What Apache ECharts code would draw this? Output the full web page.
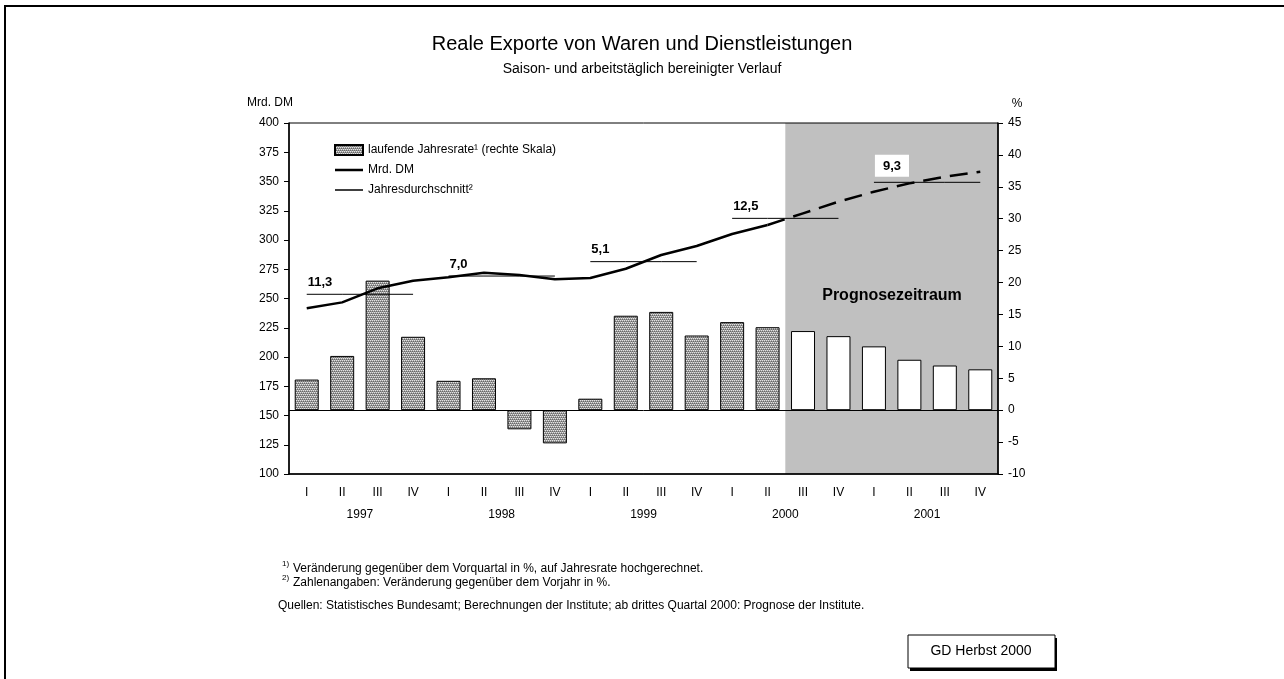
<!DOCTYPE html>
<html>
<head>
<meta charset="utf-8">
<script src="https://cdn.jsdelivr.net/npm/echarts@6/dist/echarts.min.js"></script>
<style>
  html, body { margin: 0; padding: 0; background: #fff; }
  #main { width: 1284px; height: 679px; }
</style>
</head>
<body>
<div id="main"></div>
<script>
// Quartale und Jahre
const quarters = ['I', 'II', 'III', 'IV'];
const years = ['1997', '1998', '1999', '2000', '2001'];
// laufende Jahresrate in % (rechte Skala)
const rateValues = [4.8, 8.5, 20.3, 11.5, 4.6, 5.0, -3.0, -5.2, 1.8, 14.8, 15.4, 11.7, 13.8, 13.0, 12.4, 11.6, 10.0, 7.9, 7.0, 6.4];
// reale Exporte in Mrd. DM (linke Skala)
const exportValues = [241.6, 246.7, 258.7, 265.2, 268.1, 272.1, 270.0, 266.4, 267.5, 275.4, 287.2, 294.9, 305.1, 312.8, 322.8, 332.7, 341.3, 348.4, 354.1, 358.4];
// Jahresdurchschnitt (Niveau in Mrd. DM) und Veränderung gegenüber Vorjahr
const annualLevels = [253.6, 269.2, 281.5, 318.5, 349.3];
const annualLabels = ['11,3', '7,0', '5,1', '12,5', '9,3'];
// ab 2000 III Prognose
const forecastStart = 14;

const FONT = 'Liberation Sans, Arial, sans-serif';
const categories = [];
years.forEach(y => quarters.forEach(q => categories.push(y + ' ' + q)));

// Punktraster fuer die Balken
function makePattern() {
  const c = document.createElement('canvas');
  c.width = 4; c.height = 4;
  const g = c.getContext('2d');
  g.fillStyle = '#9c9c9c';
  g.fillRect(0, 0, 4, 4);
  g.fillStyle = '#e4e4e4';
  [[0, 0], [2, 0], [1, 2], [3, 2]].forEach(p => g.fillRect(p[0], p[1], 1, 1));
  g.fillStyle = '#686868';
  [[1, 1], [3, 1], [0, 3], [2, 3]].forEach(p => g.fillRect(p[0], p[1], 1, 1));
  return c;
}
const pattern = { image: makePattern(), repeat: 'repeat' };

const chart = echarts.init(document.getElementById('main'));

const barData = rateValues.map((v, i) => i >= forecastStart
  ? { value: v, itemStyle: { color: '#fff' } }
  : v);
const solidLine = exportValues.map((v, i) => i <= forecastStart - 1 ? v : null);
const dashedLine = exportValues.map((v, i) => i >= forecastStart - 1 ? v : null);

const annualSeries = annualLevels.map((lvl, k) => {
  const data = categories.map(() => null);
  for (let j = 0; j < 4; j++) data[k * 4 + j] = lvl;
  data[k * 4] = {
    value: lvl,
    label: {
      show: true,
      position: 'top',
      align: 'left',
      distance: 5,
      offset: [1, 0],
      formatter: annualLabels[k],
      fontFamily: FONT,
      fontSize: 13,
      fontWeight: 'bold',
      color: '#000',
      backgroundColor: k === 4 ? '#fff' : 'transparent',
      padding: k === 4 ? [5, 8, 4, 8] : 0
    }
  };
  return {
    name: 'Jahresdurchschnitt²',
    type: 'line',
    xAxisIndex: 0,
    yAxisIndex: 0,
    data: data,
    symbol: 'circle',
    symbolSize: 1,
    showSymbol: true,
    connectNulls: false,
    lineStyle: { color: '#000', width: 1 },
    itemStyle: { color: 'rgba(0,0,0,0)' },
    z: 4,
    silent: true
  };
});

const option = {
  animation: false,
  backgroundColor: '#fff',
  textStyle: { fontFamily: FONT, color: '#000' },
  title: {
    text: 'Reale Exporte von Waren und Dienstleistungen',
    subtext: 'Saison- und arbeitstäglich bereinigter Verlauf',
    left: 'center',
    top: 29,
    itemGap: 8,
    textStyle: { fontFamily: FONT, fontSize: 20, fontWeight: 'normal', color: '#000' },
    subtextStyle: { fontFamily: FONT, fontSize: 14, color: '#000' }
  },
  legend: {
    orient: 'vertical',
    left: 329,
    top: 139,
    itemWidth: 28,
    itemHeight: 10,
    itemGap: 8,
    textStyle: { fontFamily: FONT, fontSize: 12, color: '#000' },
    data: [
      { name: 'laufende Jahresrate¹ (rechte Skala)', icon: 'rect' },
      { name: 'Mrd. DM', icon: 'path://M0,0 L28,0 L28,2.5 L0,2.5 Z', itemStyle: { color: '#000' } },
      { name: 'Jahresdurchschnitt²', icon: 'path://M0,0 L28,0 L28,1.5 L0,1.5 Z', itemStyle: { color: '#000' } }
    ]
  },
  grid: {
    left: 289,
    right: 286,
    top: 123,
    bottom: 205,
    show: true,
    borderColor: '#000',
    borderWidth: 1,
    backgroundColor: 'transparent'
  },
  xAxis: [
    {
      type: 'category',
      data: categories,
      position: 'bottom',
      axisLine: { onZero: false, lineStyle: { color: '#000', width: 1.5 } },
      axisTick: { interval: 3, length: 5, lineStyle: { color: '#000' } },
      axisLabel: {
        interval: 0,
        margin: 13,
        fontFamily: FONT,
        fontSize: 12,
        color: '#000',
        formatter: v => v.split(' ')[1]
      }
    },
    {
      type: 'category',
      data: years,
      position: 'bottom',
      offset: 27,
      axisLine: { show: false },
      axisTick: { show: false },
      axisLabel: { interval: 0, margin: 8, fontFamily: FONT, fontSize: 12, color: '#000' }
    }
  ],
  yAxis: [
    {
      type: 'value',
      min: 100,
      max: 400,
      interval: 25,
      position: 'left',
      splitLine: { show: false },
      axisLine: { show: true, lineStyle: { color: '#000', width: 1.5 } },
      axisTick: { show: true, length: 5, lineStyle: { color: '#000' } },
      axisLabel: { margin: 10, fontFamily: FONT, fontSize: 12, color: '#000' }
    },
    {
      type: 'value',
      min: -10,
      max: 45,
      interval: 5,
      position: 'right',
      splitLine: { show: false },
      axisLine: { show: true, lineStyle: { color: '#000', width: 1.5 } },
      axisTick: { show: true, length: 5, lineStyle: { color: '#000' } },
      axisLabel: { margin: 10, fontFamily: FONT, fontSize: 12, color: '#000' }
    }
  ],
  series: [
    {
      // grauer Hintergrund fuer den Prognosezeitraum
      name: 'Prognosezeitraum',
      type: 'custom',
      xAxisIndex: 0,
      yAxisIndex: 0,
      silent: true,
      z: -1,
      data: [[forecastStart, categories.length - 1]],
      renderItem(params, api) {
        const half = api.size([1, 0])[0] / 2;
        const p0 = api.coord([api.value(0), 400]);
        const p1 = api.coord([api.value(1), 100]);
        return {
          type: 'rect',
          shape: { x: p0[0] - half, y: p0[1], width: p1[0] + half - (p0[0] - half), height: p1[1] - p0[1] },
          style: { fill: '#c0c0c0' }
        };
      }
    },
    {
      name: 'laufende Jahresrate¹ (rechte Skala)',
      type: 'bar',
      xAxisIndex: 0,
      yAxisIndex: 1,
      data: barData,
      barWidth: 24,
      itemStyle: { color: pattern, borderColor: '#000', borderWidth: 1 },
      z: 2,
      markLine: {
        silent: true,
        symbol: 'none',
        label: { show: false },
        lineStyle: { color: '#000', width: 1, type: 'solid' },
        data: [{ yAxis: 0 }]
      }
    },
    {
      name: 'Mrd. DM',
      type: 'line',
      xAxisIndex: 0,
      yAxisIndex: 0,
      data: solidLine,
      symbol: 'none',
      lineStyle: { color: '#000', width: 2.5 },
      itemStyle: { color: '#000' },
      z: 5
    },
    {
      name: 'Mrd. DM',
      type: 'line',
      xAxisIndex: 0,
      yAxisIndex: 0,
      data: dashedLine,
      symbol: 'none',
      lineStyle: { color: '#000', width: 2.5, type: [18, 9] },
      itemStyle: { color: '#000' },
      z: 5
    }
  ].concat(annualSeries),
  graphic: [
    {
      type: 'rect',
      shape: { x: 5, y: 6, width: 1400, height: 800 },
      style: { fill: 'none', stroke: '#000', lineWidth: 2 },
      silent: true
    },
    {
      type: 'text', x: 270, y: 103,
      style: { text: 'Mrd. DM', fontFamily: FONT, fontSize: 12, fill: '#000', align: 'center', verticalAlign: 'middle' }
    },
    {
      type: 'text', x: 1017, y: 104,
      style: { text: '%', fontFamily: FONT, fontSize: 12, fill: '#000', align: 'center', verticalAlign: 'middle' }
    },
    {
      type: 'text', x: 892, y: 296, z: 10,
      style: { text: 'Prognosezeitraum', fontFamily: FONT, fontSize: 16, fontWeight: 'bold', fill: '#000', align: 'center', verticalAlign: 'middle' }
    },
    {
      type: 'text', x: 282, y: 564,
      style: { text: '1)', fontFamily: FONT, fontSize: 8, fill: '#000', verticalAlign: 'middle' }
    },
    {
      type: 'text', x: 293, y: 569,
      style: { text: 'Veränderung gegenüber dem Vorquartal in %, auf Jahresrate hochgerechnet.', fontFamily: FONT, fontSize: 12, fill: '#000', verticalAlign: 'middle' }
    },
    {
      type: 'text', x: 282, y: 578,
      style: { text: '2)', fontFamily: FONT, fontSize: 8, fill: '#000', verticalAlign: 'middle' }
    },
    {
      type: 'text', x: 293, y: 583,
      style: { text: 'Zahlenangaben: Veränderung gegenüber dem Vorjahr in %.', fontFamily: FONT, fontSize: 12, fill: '#000', verticalAlign: 'middle' }
    },
    {
      type: 'text', x: 278, y: 606,
      style: { text: 'Quellen: Statistisches Bundesamt; Berechnungen der Institute; ab drittes Quartal 2000: Prognose der Institute.', fontFamily: FONT, fontSize: 12, fill: '#000', verticalAlign: 'middle' }
    },
    {
      type: 'rect',
      shape: { x: 910, y: 638, width: 147, height: 33 },
      style: { fill: '#000' }
    },
    {
      type: 'rect',
      shape: { x: 908, y: 635, width: 147, height: 33 },
      style: { fill: '#fff', stroke: '#000', lineWidth: 1 }
    },
    {
      type: 'text', x: 981, y: 651,
      style: { text: 'GD Herbst 2000', fontFamily: FONT, fontSize: 14, fill: '#000', align: 'center', verticalAlign: 'middle' }
    }
  ]
};

chart.setOption(option);
</script>
</body>
</html>
